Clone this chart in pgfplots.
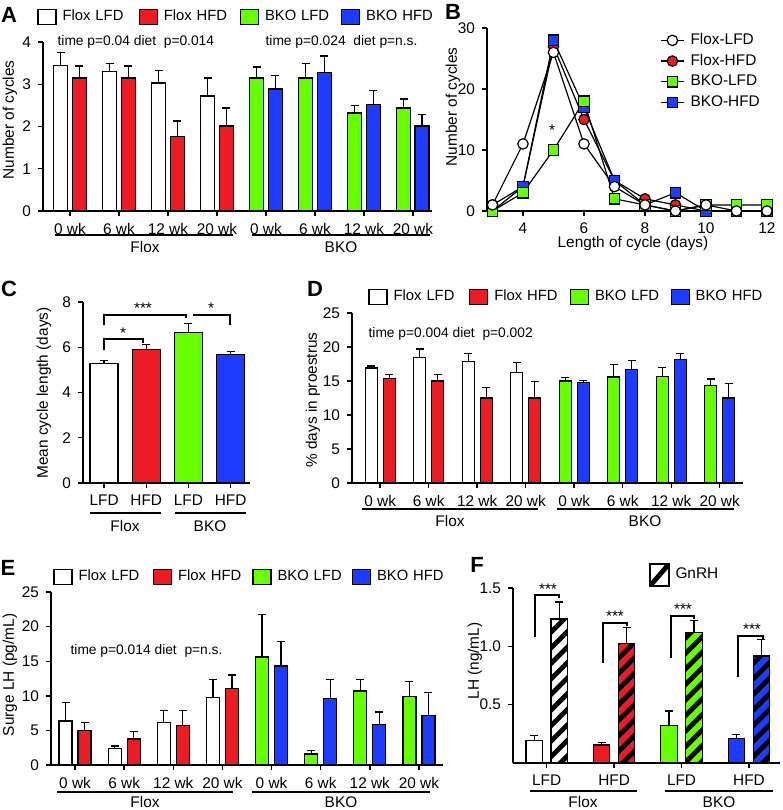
\documentclass[border=0pt]{standalone}
\usepackage{pgfplots}
\pgfplotsset{compat=1.18}
\usetikzlibrary{patterns.meta}
\usepackage{fontspec}
\setmainfont{Liberation Sans}

\definecolor{fred}{RGB}{237,28,36}
\definecolor{fgreen}{RGB}{102,255,0}
\definecolor{fblue}{RGB}{30,60,255}

\newcommand{\tf}{\fontsize{7.7}{8.8}\selectfont}
\newcommand{\gf}{\fontsize{7.4}{8.5}\selectfont}
\newcommand{\pf}{\fontsize{6.9}{8}\selectfont}
\newcommand{\lf}{\fontsize{11}{12}\selectfont\bfseries}

\pgfplotsset{
  /pgfplots/ybar legend/.style={
    /pgfplots/legend image code/.code={%
      \draw[##1,/tikz/.cd,line width=0.6pt] (0pt,-3.75pt) rectangle (9pt,3.75pt);}},
  panel/.style={scale only axis, anchor=south west,
    axis x line*=bottom, axis y line*=left,
    axis line style={-,line width=0.7pt},
    tick align=outside, major tick length=2.5pt,
    tick style={black,line width=0.7pt},
    tick label style={font=\tf},
    /pgf/number format/assume math mode=true,
    ymin=0, clip=false},
  bars/.style={panel, ybar,
    every axis plot/.append style={draw=black,line width=0.6pt},
    error bars/y dir=plus, error bars/y explicit,
    error bars/error bar style={black,line width=0.6pt},
    error bars/error mark options={rotate=90,black,line width=0.6pt,mark size=2pt},
    legend columns=4, legend cell align=left,
    legend style={draw=none,fill=none,inner sep=0pt,anchor=west,
      /tikz/column sep=0pt,
      nodes={font=\gf,inner xsep=3pt,inner ysep=0pt,text width=35pt}}},
  hatch/.style={postaction={pattern={Lines[angle=45,distance=5.5pt,line width=2.4pt]}}},
}

\begin{document}
\begin{tikzpicture}
\path[use as bounding box] (0,0) rectangle (391.5pt,-405pt);

% ---------- A ----------
\begin{axis}[bars, at={(21.5pt,-105.5pt)}, width=194.5pt, height=84.5pt,
  xmin=-0.55, xmax=7.39, ymax=4, ytick={0,...,4}, xtick={0,...,7},
  xticklabels={0 wk,6 wk,12 wk,20 wk,0 wk,6 wk,12 wk,20 wk},
  bar width=7pt, legend style={at={(-0.0154,1.148)}}]
\addplot[fill=white, bar shift=-4.6pt] coordinates {
  (0,3.45) +- (0,0.31) (1,3.31) +- (0,0.19) (2,3.03) +- (0,0.30) (3,2.72) +- (0,0.43)};
\addlegendentry{Flox LFD}
\addplot[fill=fred, bar shift=4.6pt] coordinates {
  (0,3.15) +- (0,0.28) (1,3.15) +- (0,0.28) (2,1.77) +- (0,0.36) (3,2.01) +- (0,0.43)};
\addlegendentry{Flox HFD}
\addplot[fill=fgreen, bar shift=-4.6pt] coordinates {
  (4,3.15) +- (0,0.26) (5,3.15) +- (0,0.35) (6,2.32) +- (0,0.17) (7,2.44) +- (0,0.21)};
\addlegendentry{BKO LFD}
\addplot[fill=fblue, bar shift=4.6pt] coordinates {
  (4,2.89) +- (0,0.31) (5,3.27) +- (0,0.40) (6,2.53) +- (0,0.32) (7,2.01) +- (0,0.28)};
\addlegendentry{BKO HFD}
\end{axis}

% ---------- B ----------
\begin{axis}[panel, at={(243.5pt,-105.5pt)}, width=141.5pt, height=91.5pt,
  xmin=2.82, xmax=12.1, ymax=30, xtick={4,6,8,10,12}, ytick={0,10,20,30},
  legend cell align=left,
  legend image code/.code={\draw[mark repeat=2,mark phase=2,#1] plot coordinates {(0pt,0pt) (5.75pt,0pt) (11.5pt,0pt)};},
  legend style={at={(0.611,0.973)}, anchor=north west, draw=none, fill=none,
    inner sep=0pt, row sep=3.35pt,
    nodes={font=\tf,inner xsep=3pt,inner ysep=0pt,text height=5.5pt,text depth=1.5pt}}]
\addplot[forget plot, black, line width=0.6pt, mark=*, mark size=2.6pt,
  mark options={fill=fred}] coordinates {
  (3,1) (4,4) (5,27) (6,15) (7,5) (8,2) (9,1) (10,0) (11,0) (12,0)};
\addplot[forget plot, black, line width=0.6pt, mark=square*, mark size=2.6pt,
  mark options={fill=fblue}] coordinates {
  (3,0) (4,4) (5,28) (6,17) (7,5) (8,1) (9,3) (10,0) (11,0) (12,0)};
\addplot[forget plot, black, line width=0.6pt, mark=square*, mark size=2.6pt,
  mark options={fill=fgreen}] coordinates {
  (3,0) (4,3) (5,10) (6,18) (7,2) (8,1) (9,0) (10,1) (11,1) (12,1)};
\addplot[forget plot, black, line width=0.6pt, mark=*, mark size=2.6pt,
  mark options={fill=white}] coordinates {
  (3,1) (4,11) (5,26) (6,11) (7,4) (8,1) (9,0) (10,1) (11,0) (12,0)};
\addlegendimage{black, line width=0.6pt, mark=*, mark size=2.6pt, mark options={fill=white}}
\addlegendentry{Flox-LFD}
\addlegendimage{black, line width=0.6pt, mark=*, mark size=2.6pt, mark options={fill=fred}}
\addlegendentry{Flox-HFD}
\addlegendimage{black, line width=0.6pt, mark=square*, mark size=2.6pt, mark options={fill=fgreen}}
\addlegendentry{BKO-LFD}
\addlegendimage{black, line width=0.6pt, mark=square*, mark size=2.6pt, mark options={fill=fblue}}
\addlegendentry{BKO-HFD}
\end{axis}

% ---------- C ----------
\begin{axis}[bars, at={(41.5pt,-241.5pt)}, width=83.5pt, height=90.5pt,
  xmin=-0.5, xmax=3.46, ymax=8, ytick={0,2,4,6,8}, xtick={0,...,3},
  xticklabels={LFD,HFD,LFD,HFD}, bar width=14pt]
\addplot[fill=white, bar shift=0pt] coordinates {(0,5.29) +- (0,0.14)};
\addplot[fill=fred, bar shift=0pt] coordinates {(1,5.91) +- (0,0.22)};
\addplot[fill=fgreen, bar shift=0pt] coordinates {(2,6.66) +- (0,0.40)};
\addplot[fill=fblue, bar shift=0pt] coordinates {(3,5.69) +- (0,0.13)};
\end{axis}

% ---------- D ----------
\begin{axis}[bars, at={(176pt,-241.5pt)}, width=195.5pt, height=85pt,
  xmin=-0.58, xmax=7.48, ymax=25, ytick={0,5,...,25}, xtick={0,...,7},
  xticklabels={0 wk,6 wk,12 wk,20 wk,0 wk,6 wk,12 wk,20 wk},
  bar width=6pt, legend style={at={(0.041,1.094)},
    nodes={text width=34.75pt}}]
\addplot[fill=white, bar shift=-4.5pt] coordinates {
  (0,16.9) +- (0,0.3) (1,18.4) +- (0,1.3) (2,17.9) +- (0,1.1) (3,16.3) +- (0,1.4)};
\addlegendentry{Flox LFD}
\addplot[fill=fred, bar shift=4.5pt] coordinates {
  (0,15.4) +- (0,0.5) (1,15.0) +- (0,1.0) (2,12.5) +- (0,1.6) (3,12.5) +- (0,2.4)};
\addlegendentry{Flox HFD}
\addplot[fill=fgreen, bar shift=-4.5pt] coordinates {
  (4,15.0) +- (0,0.5) (5,15.6) +- (0,1.8) (6,15.7) +- (0,1.3) (7,14.3) +- (0,1.0)};
\addlegendentry{BKO LFD}
\addplot[fill=fblue, bar shift=4.5pt] coordinates {
  (4,14.8) +- (0,0.3) (5,16.7) +- (0,1.3) (6,18.2) +- (0,0.9) (7,12.5) +- (0,2.1)};
\addlegendentry{BKO HFD}
\end{axis}

% ---------- E ----------
\begin{axis}[bars, at={(25.5pt,-382.5pt)}, width=196pt, height=86.5pt,
  xmin=-0.49, xmax=7.49, ymax=25, ytick={0,5,...,25}, xtick={0,...,7},
  xticklabels={0 wk,6 wk,12 wk,20 wk,0 wk,6 wk,12 wk,20 wk},
  bar width=6.5pt, legend style={at={(0.005,1.087)},
    nodes={text width=34.15pt}}]
\addplot[fill=white, bar shift=-4.75pt] coordinates {
  (0,6.35) +- (0,2.65) (1,2.4) +- (0,0.35) (2,6.1) +- (0,1.8) (3,9.7) +- (0,2.7)};
\addlegendentry{Flox LFD}
\addplot[fill=fred, bar shift=4.75pt] coordinates {
  (0,4.95) +- (0,1.15) (1,3.75) +- (0,1.05) (2,5.7) +- (0,2.2) (3,11.1) +- (0,1.9)};
\addlegendentry{Flox HFD}
\addplot[fill=fgreen, bar shift=-4.75pt] coordinates {
  (4,15.6) +- (0,6.1) (5,1.6) +- (0,0.5) (6,10.7) +- (0,1.7) (7,9.9) +- (0,2.2)};
\addlegendentry{BKO LFD}
\addplot[fill=fblue, bar shift=4.75pt] coordinates {
  (4,14.3) +- (0,3.6) (5,9.6) +- (0,2.8) (6,5.9) +- (0,1.75) (7,7.2) +- (0,3.3)};
\addlegendentry{BKO HFD}
\end{axis}

% ---------- F ----------
\begin{axis}[bars, at={(256.5pt,-381.5pt)}, width=133.5pt, height=87.5pt,
  xmin=-0.5, xmax=3.46, ymax=1.5, ytick={0.5,1,1.5}, xtick={0,...,3},
  xticklabels={LFD,HFD,LFD,HFD}, bar width=8.25pt,
  yticklabel style={/pgf/number format/.cd,fixed,fixed zerofill,precision=1},
  legend style={at={(0.509,1.074)}, nodes={font=\tf,text width=22pt}}]
\addplot[forget plot, fill=white, bar shift=-6.25pt] coordinates {(0,0.19) +- (0,0.044)};
\addplot[forget plot, fill=white, hatch, bar shift=6.25pt] coordinates {(0,1.234) +- (0,0.146)};
\addplot[forget plot, fill=fred, bar shift=-6.25pt] coordinates {(1,0.154) +- (0,0.023)};
\addplot[forget plot, fill=fred, hatch, bar shift=6.25pt] coordinates {(1,1.025) +- (0,0.135)};
\addplot[forget plot, fill=fgreen, bar shift=-6.25pt] coordinates {(2,0.32) +- (0,0.126)};
\addplot[forget plot, fill=fgreen, hatch, bar shift=6.25pt] coordinates {(2,1.117) +- (0,0.103)};
\addplot[forget plot, fill=fblue, bar shift=-6.25pt] coordinates {(3,0.21) +- (0,0.036)};
\addplot[forget plot, fill=fblue, hatch, bar shift=6.25pt] coordinates {(3,0.917) +- (0,0.143)};
\addlegendimage{legend image code/.code={
  \fill[white] (0pt,-5.5pt) rectangle (9.5pt,5.5pt);
  \begin{scope}\clip (0pt,-5.5pt) rectangle (9.5pt,5.5pt);
  \draw[line width=2.4pt] (0pt,-5.5pt) -- (9.5pt,5.5pt);\end{scope}
  \draw[line width=0.6pt] (0pt,-5.5pt) rectangle (9.5pt,5.5pt);}}
\addlegendentry{GnRH}
\end{axis}

% ---------- annotations (pixel units) ----------
\begin{scope}[x=0.5pt,y=-0.5pt,line width=0.6pt]
\node[font=\lf] at (9,15) {A};
\node[font=\lf] at (453,12) {B};
\node[font=\lf] at (9,289) {C};
\node[font=\lf] at (315,289) {D};
\node[font=\lf] at (8,568) {E};
\node[font=\lf] at (477,565) {F};
% axis titles
\node[font=\tf,rotate=90] at (10,120) {Number of cycles};
\node[font=\tf,rotate=90] at (453,107) {Number of cycles};
\node[font=\tf] at (633,244) {Length of cycle (days)};
\node[font=\tf,rotate=90] at (44,393) {Mean cycle length (days)};
\node[font=\tf,rotate=90] at (313,400) {\% days in proestrus};
\node[font=\tf,rotate=90] at (10,675) {Surge LH (pg/mL)};
\node[font=\tf,rotate=90] at (475,661) {LH (ng/mL)};
% p values
\node[font=\pf,anchor=west,inner sep=0] at (57,42) {time p=0.04 diet\ \ p=0.014};
\node[font=\pf,anchor=west,inner sep=0] at (265,42) {time p=0.024\ \ diet p=n.s.};
\node[font=\pf,anchor=west,inner sep=0] at (368,334) {time p=0.004 diet\ \ p=0.002};
\node[font=\pf,anchor=west,inner sep=0] at (70,651) {time p=0.014 diet\ \ p=n.s.};
% group lines
\draw (55,235) -- (233,235); \draw (252,235) -- (430,235);
\node[font=\tf] at (145,247) {Flox}; \node[font=\tf] at (341,247) {BKO};
\draw (90,513) -- (161,513); \draw (175,513) -- (246,513);
\node[font=\tf] at (125,526) {Flox}; \node[font=\tf] at (210,526) {BKO};
\draw (362,509) -- (538,509); \draw (557,509) -- (734,509);
\node[font=\tf] at (450,521) {Flox}; \node[font=\tf] at (645,521) {BKO};
\draw (57,792) -- (233,792); \draw (252,792) -- (430,792);
\node[font=\tf] at (145,802) {Flox}; \node[font=\tf] at (341,802) {BKO};
\draw (530,791) -- (637,791); \draw (665,791) -- (773,791);
\node[font=\tf] at (583,802) {Flox}; \node[font=\tf] at (719,802) {BKO};
% B star
\node[font=\tf] at (552,130) {*};
% C brackets
\draw (104,350) -- (104,339) -- (143,339) -- (143,343);
\node[font=\tf] at (123,333) {*};
\draw (104,325) -- (104,315) -- (186,315) -- (186,318);
\draw (193,315) -- (230,315) -- (230,325);
\node[font=\tf] at (143,308) {***};
\node[font=\tf] at (211,308) {*};
% F brackets
\draw (535,637) -- (535,595) -- (559,595) -- (559,598);
\node[font=\tf] at (548,589) {***};
\draw (603,663) -- (603,623) -- (627,623) -- (627,626);
\node[font=\tf] at (615,616) {***};
\draw (671,658) -- (671,616) -- (694,616) -- (694,619);
\node[font=\tf] at (683,609) {***};
\draw (738,677) -- (738,636) -- (763,636) -- (763,639);
\node[font=\tf] at (752,629) {***};
\end{scope}
\end{tikzpicture}
\end{document}
